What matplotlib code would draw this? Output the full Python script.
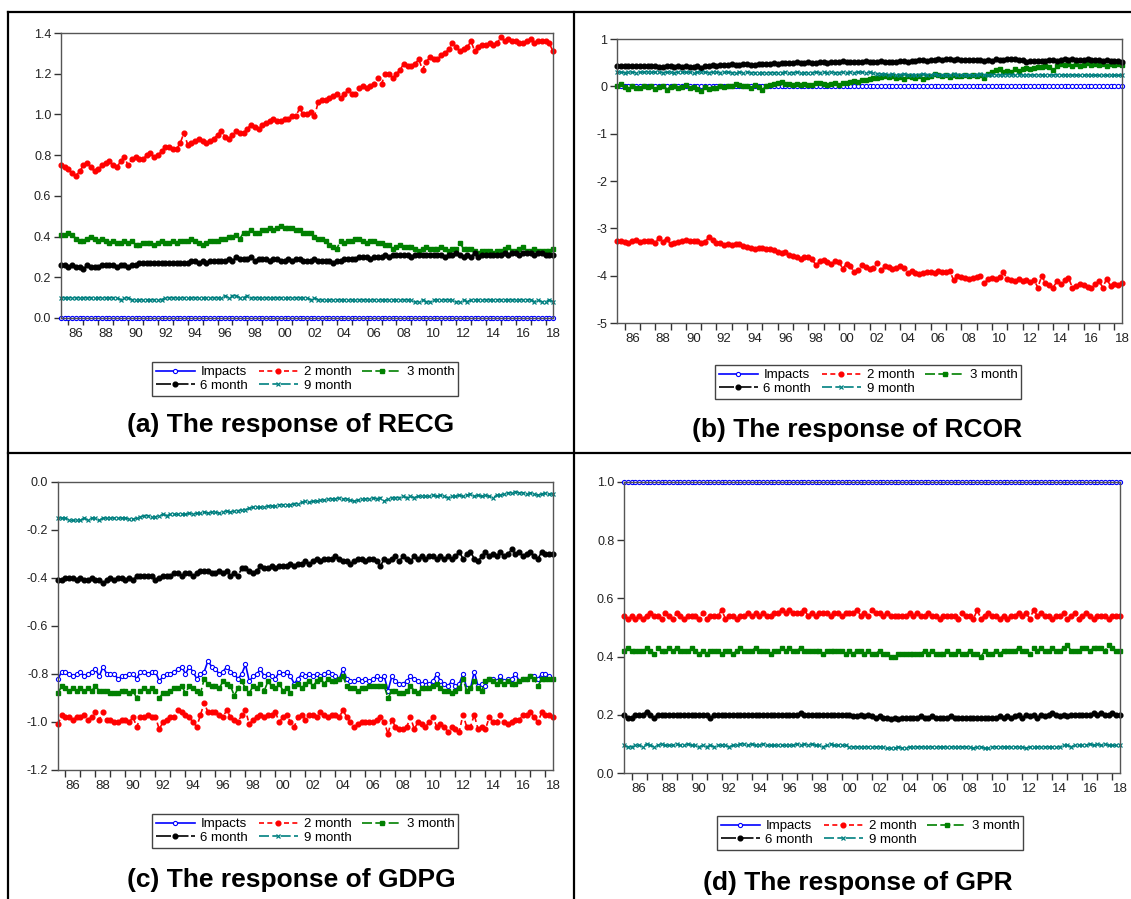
import numpy as np
import matplotlib
matplotlib.use("Agg")
import matplotlib.pyplot as plt
from matplotlib.lines import Line2D
from matplotlib.ticker import FixedLocator, FixedFormatter, MultipleLocator, FormatStrFormatter

plt.rcParams['font.family'] = ['Liberation Sans', 'DejaVu Sans']
plt.rcParams['axes.unicode_minus'] = False

# quarterly readings, 1985.5 .. 2018.5 (133 obs)
n_obs = 133
quarters = 1985.5 + np.arange(n_obs) * 0.25
series_names = ["Impacts", "2 month", "3 month", "6 month", "9 month"]

# ---- (a) RECG
recg_impacts = [0.0] * n_obs
recg_2m = [0.75, 0.74,
           0.73, 0.71, 0.70, 0.72, 0.75, 0.76, 0.74, 0.72, 0.73, 0.75, 0.76, 0.77,
           0.75, 0.74, 0.77, 0.79, 0.75, 0.78, 0.79, 0.78, 0.78, 0.80, 0.81, 0.79,
           0.80, 0.82, 0.84, 0.84, 0.83, 0.83, 0.86, 0.91, 0.85, 0.86, 0.87, 0.88,
           0.87, 0.86, 0.87, 0.88, 0.90, 0.92, 0.89, 0.88, 0.90, 0.92, 0.91, 0.91,
           0.93, 0.95, 0.94, 0.93, 0.95, 0.96, 0.97, 0.98, 0.97, 0.97, 0.98, 0.98,
           0.99, 0.99, 1.03, 1.00, 1.00, 1.01, 0.99, 1.06, 1.07, 1.07, 1.08, 1.09,
           1.10, 1.08, 1.10, 1.12, 1.10, 1.10, 1.13, 1.14, 1.13, 1.14, 1.15, 1.18,
           1.15, 1.20, 1.20, 1.18, 1.20, 1.22, 1.25, 1.24, 1.24, 1.25, 1.27, 1.22,
           1.26, 1.28, 1.27, 1.27, 1.29, 1.30, 1.32, 1.35, 1.33, 1.31, 1.32, 1.33,
           1.36, 1.31, 1.33, 1.34, 1.34, 1.35, 1.34, 1.35, 1.38, 1.36, 1.37, 1.36,
           1.36, 1.35, 1.35, 1.36, 1.37, 1.35, 1.36, 1.36,
           1.36, 1.35, 1.31]
recg_3m = [0.41, 0.41,
           0.42, 0.41, 0.39, 0.38, 0.38, 0.39, 0.40, 0.39, 0.38, 0.39, 0.38, 0.37,
           0.38, 0.37, 0.37, 0.38, 0.37, 0.38, 0.36, 0.36, 0.37, 0.37, 0.37, 0.36,
           0.37, 0.38, 0.37, 0.37, 0.38, 0.37, 0.38, 0.38, 0.38, 0.39, 0.38, 0.37,
           0.36, 0.37, 0.38, 0.38, 0.38, 0.39, 0.39, 0.40, 0.40, 0.41, 0.39, 0.42,
           0.42, 0.43, 0.42, 0.42, 0.43, 0.43, 0.44, 0.43, 0.44, 0.45, 0.44, 0.44,
           0.44, 0.43, 0.43, 0.42, 0.42, 0.42, 0.40, 0.39, 0.39, 0.38, 0.36, 0.35,
           0.34, 0.38, 0.37, 0.38, 0.38, 0.39, 0.39, 0.38, 0.37, 0.38, 0.38, 0.37,
           0.37, 0.36, 0.36, 0.34, 0.35, 0.36, 0.35, 0.35, 0.35, 0.34, 0.33, 0.34,
           0.35, 0.34, 0.34, 0.34, 0.35, 0.34, 0.33, 0.34, 0.34, 0.37, 0.34, 0.34,
           0.34, 0.33, 0.32, 0.33, 0.33, 0.33, 0.32, 0.33, 0.33, 0.34, 0.35, 0.33,
           0.33, 0.34, 0.35, 0.33, 0.33, 0.34, 0.33, 0.33,
           0.33, 0.33, 0.34]
recg_6m = [0.26, 0.26,
           0.25, 0.26, 0.25, 0.25, 0.24, 0.26, 0.25, 0.25, 0.25, 0.26, 0.26, 0.26,
           0.26, 0.25, 0.26, 0.26, 0.25, 0.26, 0.26, 0.27, 0.27, 0.27, 0.27, 0.27,
           0.27, 0.27, 0.27, 0.27, 0.27, 0.27, 0.27, 0.27, 0.27, 0.28, 0.28, 0.27,
           0.28, 0.27, 0.28, 0.28, 0.28, 0.28, 0.28, 0.29, 0.28, 0.30, 0.29, 0.29,
           0.29, 0.30, 0.28, 0.29, 0.29, 0.29, 0.28, 0.29, 0.29, 0.28, 0.28, 0.29,
           0.28, 0.29, 0.29, 0.28, 0.28, 0.28, 0.29, 0.28, 0.28, 0.28, 0.28, 0.27,
           0.28, 0.28, 0.29, 0.29, 0.29, 0.29, 0.30, 0.30, 0.30, 0.29, 0.30, 0.30,
           0.30, 0.31, 0.30, 0.31, 0.31, 0.31, 0.31, 0.31, 0.30, 0.31, 0.31, 0.31,
           0.31, 0.31, 0.31, 0.31, 0.31, 0.30, 0.31, 0.31, 0.32, 0.31, 0.30, 0.31,
           0.30, 0.32, 0.30, 0.31, 0.31, 0.31, 0.31, 0.31, 0.31, 0.32, 0.31, 0.32,
           0.32, 0.31, 0.32, 0.32, 0.32, 0.31, 0.32, 0.32,
           0.31, 0.31, 0.31]
recg_9m = [0.10, 0.10,
           0.10, 0.10, 0.10, 0.10, 0.10, 0.10, 0.10, 0.10, 0.10, 0.10, 0.10, 0.10,
           0.10, 0.10, 0.09, 0.10, 0.10, 0.09, 0.09, 0.09, 0.09, 0.09, 0.09, 0.09,
           0.09, 0.09, 0.10, 0.10, 0.10, 0.10, 0.10, 0.10, 0.10, 0.10, 0.10, 0.10,
           0.10, 0.10, 0.10, 0.10, 0.10, 0.10, 0.11, 0.10, 0.11, 0.11, 0.10, 0.10,
           0.11, 0.10, 0.10, 0.10, 0.10, 0.10, 0.10, 0.10, 0.10, 0.10, 0.10, 0.10,
           0.10, 0.10, 0.10, 0.10, 0.10, 0.09, 0.10, 0.09, 0.09, 0.09, 0.09, 0.09,
           0.09, 0.09, 0.09, 0.09, 0.09, 0.09, 0.09, 0.09, 0.09, 0.09, 0.09, 0.09,
           0.09, 0.09, 0.09, 0.09, 0.09, 0.09, 0.09, 0.09, 0.09, 0.08, 0.08, 0.09,
           0.08, 0.08, 0.09, 0.09, 0.09, 0.09, 0.09, 0.09, 0.08, 0.08, 0.09, 0.08,
           0.09, 0.09, 0.09, 0.09, 0.09, 0.09, 0.09, 0.09, 0.09, 0.09, 0.09, 0.09,
           0.09, 0.09, 0.09, 0.09, 0.09, 0.08, 0.09, 0.08,
           0.08, 0.09, 0.08]

# ---- (b) RCOR
rcor_impacts = [0.0] * n_obs
rcor_2m = [-3.26, -3.27,
           -3.28, -3.30, -3.27, -3.25, -3.28, -3.27, -3.26, -3.26, -3.30, -3.20, -3.28, -3.22,
           -3.34, -3.30, -3.28, -3.26, -3.25, -3.27, -3.26, -3.27, -3.32, -3.28, -3.19, -3.24,
           -3.30, -3.32, -3.35, -3.33, -3.36, -3.33, -3.33, -3.37, -3.39, -3.41, -3.43, -3.42,
           -3.42, -3.43, -3.44, -3.45, -3.49, -3.52, -3.50, -3.56, -3.58, -3.60, -3.64, -3.60,
           -3.60, -3.65, -3.78, -3.70, -3.66, -3.72, -3.75, -3.70, -3.71, -3.85, -3.75, -3.80,
           -3.92, -3.88, -3.78, -3.82, -3.85, -3.84, -3.74, -3.88, -3.80, -3.82, -3.85, -3.84,
           -3.80, -3.83, -3.95, -3.90, -3.94, -3.96, -3.94, -3.92, -3.93, -3.94, -3.91, -3.92,
           -3.92, -3.90, -4.10, -4.00, -4.02, -4.05, -4.06, -4.04, -4.02, -4.00, -4.15, -4.08,
           -4.05, -4.08, -4.02, -3.93, -4.08, -4.10, -4.12, -4.08, -4.12, -4.10, -4.14, -4.09,
           -4.25, -4.01, -4.15, -4.20, -4.25, -4.12, -4.18, -4.10, -4.04, -4.25, -4.22, -4.18,
           -4.20, -4.24, -4.27, -4.18, -4.12, -4.25, -4.06, -4.22,
           -4.18, -4.20, -4.15]
rcor_3m = [0.00, 0.05,
           -0.02, -0.05, 0.00, -0.04, -0.03, 0.00, -0.02, 0.00, -0.06, -0.02, 0.00, -0.07,
           -0.01, 0.01, -0.03, -0.02, 0.02, -0.04, -0.02, -0.06, -0.10, -0.02, -0.05, -0.04,
           -0.03, 0.00, -0.02, 0.00, 0.00, 0.04, 0.02, 0.00, 0.01, -0.03, 0.03, -0.02,
           -0.08, 0.00, 0.02, 0.04, 0.08, 0.10, 0.05, 0.04, 0.03, 0.05, 0.02, 0.04,
           0.02, 0.03, 0.08, 0.06, 0.04, 0.02, 0.05, 0.06, 0.03, 0.06, 0.08, 0.10,
           0.11, 0.10, 0.14, 0.13, 0.16, 0.17, 0.18, 0.20, 0.21, 0.19, 0.22, 0.18,
           0.20, 0.16, 0.22, 0.19, 0.18, 0.21, 0.15, 0.20, 0.22, 0.26, 0.24, 0.22,
           0.24, 0.20, 0.23, 0.21, 0.22, 0.24, 0.21, 0.23, 0.21, 0.24, 0.17, 0.26,
           0.30, 0.34, 0.36, 0.31, 0.33, 0.30, 0.36, 0.32, 0.36, 0.38, 0.37, 0.39,
           0.40, 0.41, 0.43, 0.40, 0.34, 0.44, 0.48, 0.45, 0.47, 0.44, 0.48, 0.43,
           0.46, 0.50, 0.45, 0.47, 0.46, 0.48, 0.44, 0.47,
           0.46, 0.48, 0.45]
rcor_6m = [0.43, 0.43,
           0.43, 0.43, 0.42, 0.43, 0.43, 0.43, 0.42, 0.43, 0.42, 0.40, 0.41, 0.42,
           0.42, 0.41, 0.42, 0.41, 0.42, 0.41, 0.41, 0.42, 0.38, 0.42, 0.44, 0.45,
           0.44, 0.46, 0.45, 0.46, 0.47, 0.45, 0.46, 0.47, 0.47, 0.46, 0.45, 0.47,
           0.48, 0.47, 0.48, 0.49, 0.48, 0.49, 0.50, 0.49, 0.50, 0.51, 0.49, 0.50,
           0.51, 0.50, 0.49, 0.51, 0.52, 0.50, 0.51, 0.52, 0.51, 0.53, 0.52, 0.51,
           0.52, 0.52, 0.51, 0.53, 0.52, 0.51, 0.52, 0.53, 0.51, 0.52, 0.52, 0.52,
           0.53, 0.53, 0.52, 0.54, 0.54, 0.55, 0.55, 0.54, 0.55, 0.56, 0.57, 0.55,
           0.57, 0.58, 0.56, 0.57, 0.55, 0.55, 0.56, 0.55, 0.55, 0.55, 0.54, 0.55,
           0.54, 0.57, 0.56, 0.55, 0.57, 0.58, 0.57, 0.56, 0.55, 0.52, 0.53, 0.54,
           0.54, 0.53, 0.54, 0.55, 0.55, 0.54, 0.56, 0.57, 0.56, 0.57, 0.55, 0.56,
           0.55, 0.57, 0.56, 0.55, 0.56, 0.54, 0.56, 0.54,
           0.53, 0.53, 0.52]
rcor_9m = [0.30, 0.30,
           0.29, 0.30, 0.30, 0.29, 0.30, 0.30, 0.31, 0.30, 0.30, 0.30, 0.29, 0.30,
           0.30, 0.29, 0.30, 0.30, 0.30, 0.30, 0.29, 0.30, 0.30, 0.30, 0.29, 0.30,
           0.30, 0.29, 0.30, 0.30, 0.29, 0.29, 0.30, 0.29, 0.30, 0.29, 0.29, 0.29,
           0.29, 0.29, 0.29, 0.29, 0.29, 0.29, 0.30, 0.29, 0.29, 0.30, 0.29, 0.29,
           0.29, 0.29, 0.30, 0.29, 0.30, 0.29, 0.30, 0.29, 0.29, 0.30, 0.29, 0.30,
           0.29, 0.30, 0.30, 0.29, 0.30, 0.28, 0.27, 0.26, 0.26, 0.25, 0.26, 0.25,
           0.25, 0.26, 0.25, 0.25, 0.25, 0.25, 0.26, 0.25, 0.25, 0.26, 0.25, 0.24,
           0.25, 0.25, 0.26, 0.25, 0.25, 0.25, 0.24, 0.25, 0.25, 0.26, 0.25, 0.24,
           0.25, 0.25, 0.24, 0.25, 0.25, 0.25, 0.24, 0.25, 0.24, 0.25, 0.24, 0.24,
           0.25, 0.24, 0.25, 0.24, 0.24, 0.25, 0.24, 0.24, 0.24, 0.24, 0.24, 0.23,
           0.24, 0.24, 0.23, 0.24, 0.23, 0.24, 0.23, 0.24,
           0.24, 0.23, 0.24]

# ---- (c) GDPG
gdpg_impacts = [-0.82, -0.79,
                -0.79, -0.80, -0.81, -0.80, -0.79, -0.81, -0.80, -0.79, -0.78, -0.81, -0.77, -0.80,
                -0.80, -0.80, -0.82, -0.81, -0.81, -0.80, -0.80, -0.82, -0.79, -0.79, -0.80, -0.79,
                -0.79, -0.83, -0.81, -0.80, -0.80, -0.79, -0.78, -0.77, -0.80, -0.77, -0.79, -0.82,
                -0.80, -0.79, -0.745, -0.77, -0.78, -0.80, -0.79, -0.77, -0.79, -0.80, -0.82, -0.80,
                -0.76, -0.83, -0.81, -0.80, -0.78, -0.81, -0.80, -0.81, -0.82, -0.79, -0.80, -0.79,
                -0.81, -0.84, -0.82, -0.80, -0.81, -0.80, -0.81, -0.80, -0.81, -0.80, -0.79, -0.80,
                -0.81, -0.82, -0.78, -0.82, -0.83, -0.83, -0.82, -0.83, -0.82, -0.83, -0.82, -0.81,
                -0.82, -0.81, -0.87, -0.81, -0.83, -0.84, -0.84, -0.83, -0.81, -0.82, -0.83, -0.84,
                -0.83, -0.84, -0.83, -0.80, -0.83, -0.84, -0.85, -0.83, -0.85, -0.84, -0.80, -0.86,
                -0.86, -0.79, -0.85, -0.84, -0.85, -0.82, -0.82, -0.83, -0.81, -0.83, -0.82, -0.82,
                -0.80, -0.83, -0.82, -0.82, -0.81, -0.81, -0.82, -0.80,
                -0.80, -0.81, -0.82]
gdpg_2m = [-1.01, -0.97,
           -0.98, -0.98, -0.99, -0.98, -0.98, -0.97, -0.99, -0.98, -0.96, -0.99, -0.96, -0.99,
           -0.99, -1.00, -1.00, -0.99, -0.99, -1.00, -0.98, -1.02, -0.98, -0.98, -0.97, -0.98,
           -0.98, -1.03, -1.00, -0.99, -0.98, -0.98, -0.95, -0.96, -0.97, -0.98, -1.00, -1.02,
           -0.97, -0.92, -0.96, -0.96, -0.96, -0.97, -0.98, -0.95, -0.98, -0.99, -1.00, -0.97,
           -0.95, -1.01, -0.99, -0.98, -0.97, -0.98, -0.97, -0.97, -0.96, -1.00, -0.98, -0.97,
           -1.00, -1.02, -0.98, -0.97, -0.99, -0.97, -0.97, -0.98, -0.96, -0.97, -0.98, -0.97,
           -0.97, -0.98, -0.95, -0.98, -1.00, -1.02, -1.01, -1.00, -1.00, -1.00, -1.00, -0.99,
           -0.98, -1.00, -1.05, -0.99, -1.02, -1.03, -1.03, -1.02, -0.98, -1.03, -1.00, -1.01,
           -1.02, -1.00, -0.98, -1.02, -1.01, -1.02, -1.04, -1.02, -1.03, -1.04, -0.97, -1.02,
           -1.02, -0.97, -1.03, -1.02, -1.03, -0.98, -1.00, -1.00, -0.97, -1.00, -1.01, -1.00,
           -0.99, -0.99, -0.97, -0.97, -0.96, -0.98, -1.00, -0.96,
           -0.97, -0.97, -0.98]
gdpg_3m = [-0.88, -0.85,
           -0.86, -0.87, -0.86, -0.87, -0.86, -0.87, -0.86, -0.87, -0.85, -0.87, -0.87, -0.87,
           -0.88, -0.88, -0.88, -0.87, -0.87, -0.88, -0.87, -0.90, -0.87, -0.86, -0.87, -0.86,
           -0.87, -0.90, -0.88, -0.88, -0.87, -0.86, -0.86, -0.85, -0.88, -0.85, -0.86, -0.87,
           -0.88, -0.82, -0.84, -0.85, -0.85, -0.86, -0.83, -0.84, -0.85, -0.89, -0.86, -0.83,
           -0.86, -0.88, -0.85, -0.86, -0.84, -0.87, -0.83, -0.85, -0.86, -0.84, -0.87, -0.86,
           -0.88, -0.85, -0.84, -0.86, -0.84, -0.83, -0.85, -0.83, -0.82, -0.84, -0.82, -0.83,
           -0.83, -0.82, -0.81, -0.85, -0.86, -0.86, -0.87, -0.86, -0.86, -0.85, -0.85, -0.85,
           -0.85, -0.85, -0.90, -0.87, -0.87, -0.88, -0.88, -0.87, -0.85, -0.87, -0.88, -0.86,
           -0.86, -0.86, -0.85, -0.84, -0.86, -0.87, -0.87, -0.88, -0.87, -0.86, -0.82, -0.87,
           -0.86, -0.83, -0.86, -0.87, -0.83, -0.82, -0.83, -0.84, -0.83, -0.84, -0.83, -0.84,
           -0.84, -0.83, -0.82, -0.82, -0.81, -0.82, -0.85, -0.82,
           -0.82, -0.82, -0.82]
gdpg_6m = [-0.41, -0.41,
           -0.40, -0.40, -0.40, -0.41, -0.40, -0.41, -0.41, -0.40, -0.41, -0.41, -0.42, -0.41,
           -0.40, -0.41, -0.40, -0.40, -0.41, -0.40, -0.41, -0.39, -0.39, -0.39, -0.39, -0.39,
           -0.41, -0.40, -0.39, -0.39, -0.39, -0.38, -0.38, -0.39, -0.38, -0.38, -0.39, -0.38,
           -0.37, -0.37, -0.37, -0.38, -0.38, -0.37, -0.38, -0.37, -0.39, -0.38, -0.39, -0.36,
           -0.36, -0.37, -0.38, -0.37, -0.35, -0.36, -0.36, -0.35, -0.36, -0.35, -0.35, -0.35,
           -0.34, -0.35, -0.34, -0.34, -0.33, -0.34, -0.33, -0.32, -0.33, -0.32, -0.32, -0.32,
           -0.31, -0.32, -0.33, -0.33, -0.34, -0.33, -0.32, -0.32, -0.33, -0.32, -0.32, -0.33,
           -0.35, -0.32, -0.33, -0.32, -0.31, -0.33, -0.31, -0.32, -0.33, -0.31, -0.32, -0.31,
           -0.32, -0.31, -0.31, -0.32, -0.31, -0.32, -0.31, -0.32, -0.31, -0.29, -0.32, -0.30,
           -0.29, -0.32, -0.33, -0.31, -0.29, -0.31, -0.30, -0.31, -0.29, -0.31, -0.30, -0.28,
           -0.30, -0.29, -0.31, -0.30, -0.29, -0.31, -0.32, -0.29,
           -0.30, -0.30, -0.30]
gdpg_9m = [-0.15, -0.15,
           -0.15, -0.16, -0.16, -0.16, -0.16, -0.15, -0.16, -0.15, -0.15, -0.16, -0.15, -0.15,
           -0.15, -0.15, -0.15, -0.15, -0.15, -0.155, -0.155, -0.15, -0.145, -0.14, -0.14, -0.145,
           -0.145, -0.14, -0.135, -0.14, -0.135, -0.135, -0.135, -0.135, -0.135, -0.13, -0.135, -0.13,
           -0.13, -0.125, -0.13, -0.125, -0.125, -0.13, -0.125, -0.12, -0.125, -0.12, -0.12, -0.115,
           -0.115, -0.11, -0.105, -0.105, -0.105, -0.105, -0.10, -0.10, -0.10, -0.095, -0.095, -0.095,
           -0.095, -0.09, -0.09, -0.085, -0.08, -0.085, -0.08, -0.08, -0.075, -0.075, -0.07, -0.07,
           -0.07, -0.065, -0.07, -0.07, -0.075, -0.08, -0.075, -0.07, -0.07, -0.07, -0.065, -0.07,
           -0.065, -0.08, -0.07, -0.065, -0.065, -0.065, -0.06, -0.065, -0.06, -0.065, -0.06, -0.06,
           -0.06, -0.06, -0.055, -0.06, -0.055, -0.06, -0.065, -0.06, -0.06, -0.055, -0.06, -0.055,
           -0.05, -0.06, -0.055, -0.06, -0.055, -0.06, -0.065, -0.055, -0.055, -0.05, -0.045, -0.045,
           -0.04, -0.045, -0.045, -0.05, -0.045, -0.05, -0.055, -0.05,
           -0.045, -0.05, -0.05]

# ---- (d) GPR
gpr_impacts = [1.0] * n_obs
gpr_2m = [0.54, 0.53,
          0.54, 0.53, 0.54, 0.53, 0.54, 0.55, 0.54, 0.54, 0.53, 0.55, 0.54, 0.53,
          0.55, 0.54, 0.53, 0.54, 0.54, 0.54, 0.53, 0.55, 0.53, 0.54, 0.54, 0.54,
          0.56, 0.53, 0.54, 0.54, 0.53, 0.54, 0.54, 0.55, 0.54, 0.55, 0.54, 0.55,
          0.54, 0.54, 0.55, 0.55, 0.56, 0.55, 0.56, 0.55, 0.55, 0.55, 0.56, 0.54,
          0.55, 0.54, 0.55, 0.55, 0.55, 0.54, 0.55, 0.55, 0.54, 0.55, 0.55, 0.55,
          0.56, 0.54, 0.55, 0.54, 0.56, 0.55, 0.55, 0.54, 0.55, 0.54, 0.54, 0.54,
          0.54, 0.54, 0.55, 0.54, 0.55, 0.54, 0.54, 0.55, 0.54, 0.54, 0.53, 0.54,
          0.54, 0.54, 0.54, 0.53, 0.55, 0.54, 0.54, 0.53, 0.56, 0.53, 0.54, 0.55,
          0.54, 0.54, 0.53, 0.54, 0.53, 0.54, 0.54, 0.55, 0.54, 0.55, 0.53, 0.56,
          0.54, 0.55, 0.54, 0.54, 0.53, 0.54, 0.54, 0.55, 0.53, 0.54, 0.55, 0.53,
          0.54, 0.55, 0.54, 0.53, 0.54, 0.54, 0.54, 0.53,
          0.54, 0.54, 0.54]
gpr_3m = [0.42, 0.43,
          0.42, 0.42, 0.42, 0.42, 0.43, 0.42, 0.41, 0.43, 0.42, 0.42, 0.43, 0.42,
          0.43, 0.42, 0.42, 0.42, 0.43, 0.42, 0.41, 0.42, 0.41, 0.42, 0.42, 0.42,
          0.41, 0.42, 0.42, 0.41, 0.42, 0.43, 0.42, 0.42, 0.42, 0.43, 0.42, 0.42,
          0.42, 0.41, 0.42, 0.42, 0.43, 0.42, 0.43, 0.42, 0.42, 0.43, 0.42, 0.42,
          0.42, 0.42, 0.42, 0.41, 0.42, 0.42, 0.42, 0.42, 0.42, 0.41, 0.42, 0.41,
          0.42, 0.42, 0.41, 0.42, 0.41, 0.41, 0.42, 0.41, 0.41, 0.40, 0.40, 0.41,
          0.41, 0.41, 0.41, 0.41, 0.41, 0.41, 0.42, 0.41, 0.42, 0.41, 0.41, 0.41,
          0.42, 0.41, 0.41, 0.42, 0.41, 0.41, 0.42, 0.41, 0.41, 0.40, 0.42, 0.41,
          0.41, 0.42, 0.41, 0.42, 0.42, 0.42, 0.42, 0.43, 0.42, 0.42, 0.41, 0.43,
          0.42, 0.43, 0.42, 0.42, 0.43, 0.42, 0.42, 0.43, 0.44, 0.42, 0.42, 0.42,
          0.43, 0.43, 0.42, 0.43, 0.43, 0.43, 0.42, 0.44,
          0.43, 0.42, 0.42]
gpr_6m = [0.20, 0.19,
          0.19, 0.20, 0.20, 0.20, 0.21, 0.20, 0.19, 0.20, 0.20, 0.20, 0.20, 0.20,
          0.20, 0.20, 0.20, 0.20, 0.20, 0.20, 0.20, 0.20, 0.20, 0.19, 0.20, 0.20,
          0.20, 0.20, 0.20, 0.20, 0.20, 0.20, 0.20, 0.20, 0.20, 0.20, 0.20, 0.20,
          0.20, 0.20, 0.20, 0.20, 0.20, 0.20, 0.20, 0.20, 0.20, 0.205, 0.20, 0.20,
          0.20, 0.20, 0.20, 0.20, 0.20, 0.20, 0.20, 0.20, 0.20, 0.20, 0.20, 0.195,
          0.195, 0.20, 0.195, 0.20, 0.195, 0.19, 0.195, 0.19, 0.19, 0.185, 0.19, 0.185,
          0.19, 0.19, 0.19, 0.19, 0.19, 0.195, 0.19, 0.19, 0.195, 0.19, 0.19, 0.19,
          0.19, 0.195, 0.19, 0.19, 0.19, 0.19, 0.19, 0.19, 0.19, 0.19, 0.19, 0.19,
          0.19, 0.19, 0.195, 0.19, 0.195, 0.19, 0.195, 0.20, 0.19, 0.20, 0.195, 0.20,
          0.19, 0.20, 0.195, 0.20, 0.205, 0.20, 0.195, 0.20, 0.195, 0.20, 0.20, 0.20,
          0.20, 0.20, 0.20, 0.205, 0.20, 0.205, 0.20, 0.20,
          0.205, 0.20, 0.20]
gpr_9m = [0.095, 0.09,
          0.09, 0.095, 0.095, 0.09, 0.10, 0.095, 0.09, 0.095, 0.10, 0.095, 0.095, 0.095,
          0.10, 0.095, 0.095, 0.10, 0.095, 0.095, 0.09, 0.095, 0.09, 0.095, 0.09, 0.095,
          0.095, 0.095, 0.09, 0.095, 0.095, 0.10, 0.10, 0.095, 0.10, 0.095, 0.095, 0.10,
          0.095, 0.095, 0.095, 0.095, 0.095, 0.095, 0.095, 0.095, 0.10, 0.095, 0.10, 0.095,
          0.10, 0.095, 0.095, 0.09, 0.095, 0.10, 0.095, 0.095, 0.095, 0.095, 0.09, 0.09,
          0.09, 0.09, 0.09, 0.09, 0.09, 0.09, 0.09, 0.09, 0.085, 0.085, 0.085, 0.09,
          0.085, 0.085, 0.09, 0.09, 0.09, 0.09, 0.09, 0.09, 0.09, 0.09, 0.09, 0.09,
          0.09, 0.09, 0.09, 0.09, 0.09, 0.09, 0.09, 0.085, 0.09, 0.09, 0.085, 0.085,
          0.09, 0.09, 0.09, 0.09, 0.09, 0.09, 0.09, 0.09, 0.09, 0.085, 0.09, 0.09,
          0.09, 0.09, 0.09, 0.09, 0.09, 0.09, 0.09, 0.095, 0.095, 0.09, 0.095, 0.095,
          0.095, 0.095, 0.10, 0.095, 0.10, 0.095, 0.10, 0.095,
          0.095, 0.095, 0.095]

panels = [
    ("(a) The response of RECG", [recg_impacts, recg_2m, recg_3m, recg_6m, recg_9m],
     (0.0, 1.4), 0.2, "%.1f"),
    ("(b) The response of RCOR", [rcor_impacts, rcor_2m, rcor_3m, rcor_6m, rcor_9m],
     (-5, 1), 1, "%d"),
    ("(c) The response of GDPG", [gdpg_impacts, gdpg_2m, gdpg_3m, gdpg_6m, gdpg_9m],
     (-1.2, 0.0), 0.2, "%.1f"),
    ("(d) The response of GPR", [gpr_impacts, gpr_2m, gpr_3m, gpr_6m, gpr_9m],
     (0.0, 1.0), 0.2, "%.1f"),
]

# pixel layout of the 1131x899 page: axes box, legend centre, caption centre
W, H = 1131, 899
axes_px = [(61, 33, 553, 318), (617, 39, 1122, 323), (58, 482, 553, 770), (624, 482, 1120, 773)]
legend_px = [(305, 379), (868, 382), (305, 831), (870, 833)]
caption_px = [(291, 425), (857, 430), (291, 880), (858, 883)]

styles = [
    dict(color="#0000ff", ls="-", marker="o", mfc="white", ms=3.0, mew=0.8),
    dict(color="#ff0000", ls=(0, (3, 2)), marker="o", ms=3.4),
    dict(color="#008000", ls=(0, (6, 2)), marker="s", ms=3.0),
    dict(color="#000000", ls=(0, (9, 1.5)), marker="o", ms=3.4),
    dict(color="#008080", ls=(0, (6, 2, 3, 2)), marker="x", ms=3.0, mew=0.9),
]

fig = plt.figure(figsize=(W / 100, H / 100), dpi=100)

year_ticks = np.arange(1986, 2019)
label_years = np.arange(1986, 2019, 2)

for i, (caption, series, ylim, ystep, yfmt) in enumerate(panels):
    x0, y0, x1, y1 = axes_px[i]
    ax = fig.add_axes([x0 / W, 1 - y1 / H, (x1 - x0) / W, (y1 - y0) / H])
    lines = []
    for name, vals, st in zip(series_names, series, styles):
        assert len(vals) == n_obs
        ln, = ax.plot(quarters, vals, label=name, lw=1.2, clip_on=False, **st)
        lines.append(ln)
    ax.set_xlim(1985.5, 2018.5)
    ax.set_ylim(*ylim)
    ax.yaxis.set_major_locator(MultipleLocator(ystep))
    ax.yaxis.set_major_formatter(FormatStrFormatter(yfmt))
    ax.xaxis.set_major_locator(FixedLocator(year_ticks))
    ax.xaxis.set_major_formatter(FixedFormatter([""] * len(year_ticks)))
    ax.xaxis.set_minor_locator(FixedLocator(label_years + 0.5))
    ax.xaxis.set_minor_formatter(FixedFormatter(["%02d" % (y % 100) for y in label_years]))
    ax.tick_params(axis="x", which="major", direction="out", length=5, width=1, color="#333333")
    ax.tick_params(axis="x", which="minor", length=0, pad=7, labelsize=9.5, labelcolor="#222222")
    ax.tick_params(axis="y", direction="out", length=5, width=1, pad=2, labelsize=9,
                   color="#333333", labelcolor="#222222")
    for sp in ax.spines.values():
        sp.set_color("#555555")
        sp.set_linewidth(1.0)

    order = [0, 3, 1, 4, 2]
    lx, ly = legend_px[i]
    leg = fig.legend([lines[k] for k in order], [series_names[k] for k in order],
                     loc="center", bbox_to_anchor=(lx / W, 1 - ly / H), ncol=3,
                     fontsize=9.5, frameon=True, fancybox=False, framealpha=1,
                     edgecolor="#444444", borderpad=0.3, handlelength=3.0,
                     handletextpad=0.4, columnspacing=0.8, labelspacing=0.1,
                     numpoints=1)
    leg.get_frame().set_linewidth(1.0)

    cx, cy = caption_px[i]
    fig.text(cx / W, 1 - cy / H, caption, ha="center", va="center",
             fontsize=19, fontweight="bold")

# table rules around the four panels
rules = [((8, 1131), (12, 12)), ((8, 1131), (453, 453)), ((8, 8), (12, 899)), ((574, 574), (12, 899))]
for xs, ys in rules:
    fig.add_artist(Line2D([x / W for x in xs], [1 - y / H for y in ys], color="black",
                          lw=1.6, transform=fig.transFigure))

fig.savefig("out.png", dpi=100)
